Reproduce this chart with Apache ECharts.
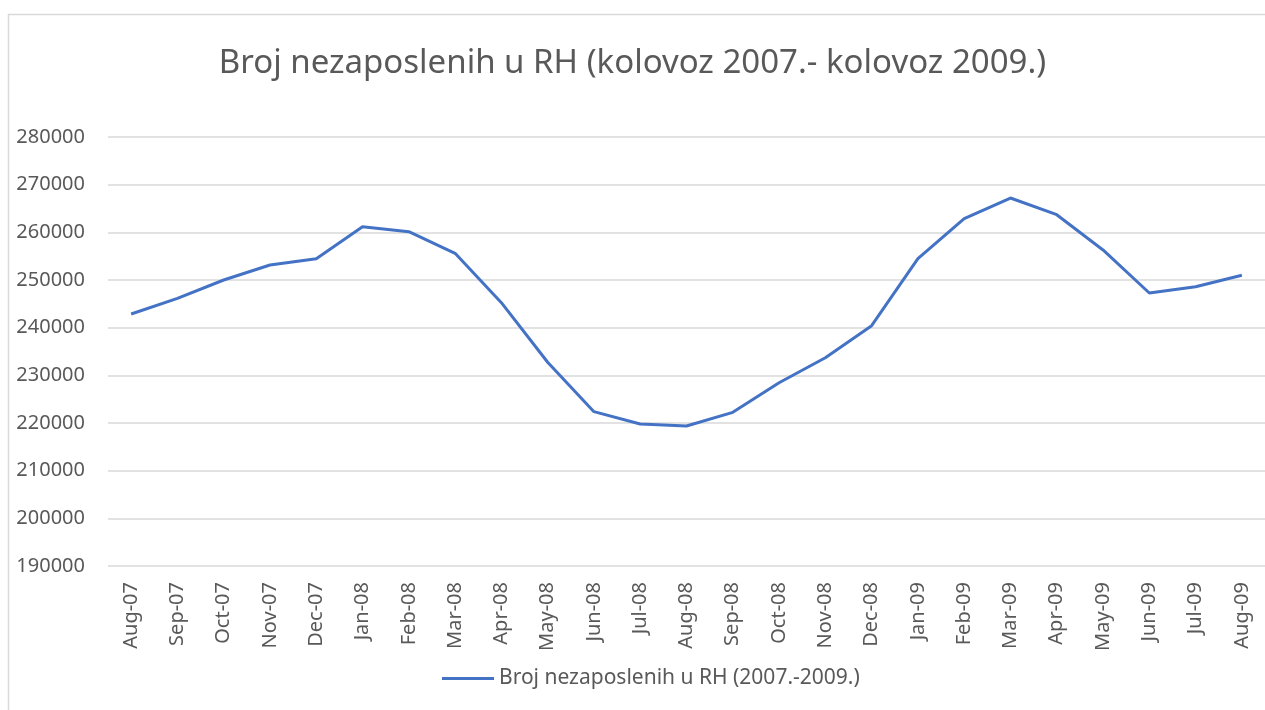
<!DOCTYPE html>
<html>
<head>
<meta charset="utf-8">
<title>Broj nezaposlenih u RH</title>
<script src="https://cdn.jsdelivr.net/npm/echarts@6/dist/echarts.min.js"></script>
<style>
    html, body { margin: 0; padding: 0; background: #ffffff; }
    #chart { width: 1265px; height: 710px; }
</style>
</head>
<body>
<div id="chart"></div>
<script>
// Categories (months)
const months = [
    'Aug-07', 'Sep-07', 'Oct-07', 'Nov-07', 'Dec-07',
    'Jan-08', 'Feb-08', 'Mar-08', 'Apr-08', 'May-08', 'Jun-08', 'Jul-08',
    'Aug-08', 'Sep-08', 'Oct-08', 'Nov-08', 'Dec-08',
    'Jan-09', 'Feb-09', 'Mar-09', 'Apr-09', 'May-09', 'Jun-09', 'Jul-09', 'Aug-09'
];

// Number of unemployed
const unemployed = [
    242870, 246160, 250000, 253150, 254470,
    261190, 260140, 255600, 245240, 232740, 222380, 219800,
    219380, 222240, 228450, 233700, 240420,
    254470, 262860, 267200, 263700, 256300, 247270, 248600, 250980
];

const seriesName = 'Broj nezaposlenih u RH (2007.-2009.)';
const chartTitle = 'Broj nezaposlenih u RH (kolovoz 2007.- kolovoz 2009.)';

const FONT = 'Noto Sans';
const TEXT_COLOR = '#595959';

function initializeChart() {
    const chart = echarts.init(document.getElementById('chart'), null, { renderer: 'canvas' });

    const option = {
        backgroundColor: '#ffffff',
        animation: false,
        title: {
            text: chartTitle,
            left: 'center',
            top: 42,
            textStyle: {
                fontFamily: FONT,
                fontSize: 33,
                fontWeight: 'normal',
                color: TEXT_COLOR
            }
        },
        legend: {
            bottom: 16,
            left: 437,
            icon: 'rect',
            itemWidth: 52,
            itemHeight: 3,
            itemGap: 5,
            textStyle: {
                fontFamily: FONT,
                fontSize: 21,
                color: TEXT_COLOR
            },
            data: [seriesName]
        },
        grid: {
            left: 108,
            right: 0,
            top: 137,
            bottom: 144
        },
        xAxis: {
            type: 'category',
            data: months,
            boundaryGap: true,
            axisLine: { show: false },
            axisTick: { show: false },
            axisLabel: {
                rotate: 90,
                margin: 16,
                interval: 0,
                fontFamily: FONT,
                fontSize: 20,
                color: TEXT_COLOR
            }
        },
        yAxis: {
            type: 'value',
            min: 190000,
            max: 280000,
            interval: 10000,
            axisLine: { show: false },
            axisTick: { show: false },
            axisLabel: {
                margin: 23,
                fontFamily: FONT,
                fontSize: 20,
                color: TEXT_COLOR,
                formatter: value => String(value)
            },
            splitLine: {
                lineStyle: { color: '#d9d9d9', width: 1.5 }
            }
        },
        graphic: [{
            type: 'rect',
            shape: { x: 8.5, y: 14.5, width: 1400, height: 900 },
            style: { fill: 'none', stroke: '#d9d9d9', lineWidth: 1.5 },
            silent: true
        }],
        series: [{
            name: seriesName,
            type: 'line',
            data: unemployed,
            symbol: 'none',
            smooth: false,
            lineStyle: { color: '#4472C4', width: 3 },
            itemStyle: { color: '#4472C4' }
        }]
    };

    chart.setOption(option);
}

document.addEventListener('DOMContentLoaded', initializeChart);
</script>
</body>
</html>
